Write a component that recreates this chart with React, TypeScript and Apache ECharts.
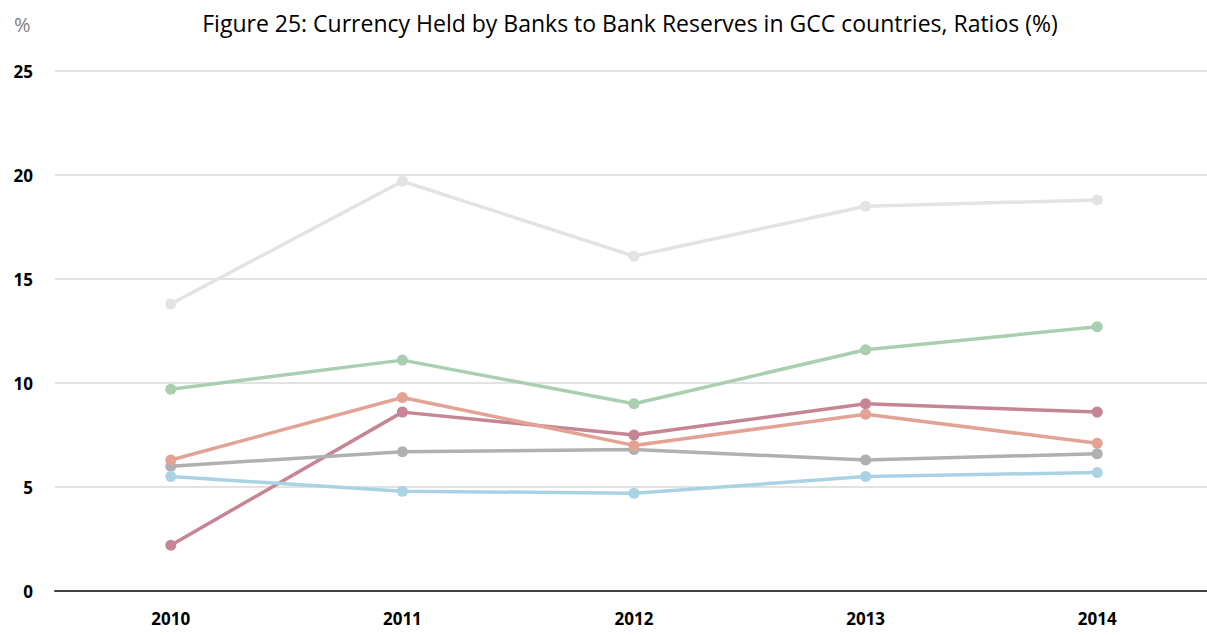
import React, { useEffect, useRef } from "react";
import * as echarts from "echarts";

const years = ["2010", "2011", "2012", "2013", "2014"];
const yTicks = [0, 5, 10, 15, 20, 25];

const seriesNames = ["Series A", "Series B", "Series C", "Series D", "Series E", "Series F"];
const lightGrayValues = [13.8, 19.7, 16.1, 18.5, 18.8];
const greenValues = [9.7, 11.1, 9.0, 11.6, 12.7];
const mauveValues = [2.2, 8.6, 7.5, 9.0, 8.6];
const grayValues = [6.0, 6.7, 6.8, 6.3, 6.6];
const blueValues = [5.5, 4.8, 4.7, 5.5, 5.7];
const salmonValues = [6.3, 9.3, 7.0, 8.5, 7.1];

const seriesValues = [lightGrayValues, greenValues, mauveValues, grayValues, blueValues, salmonValues];
const seriesColors = ["#e3e3e3", "#a9cfb0", "#c58594", "#b0b0b0", "#a9d3e5", "#e3a394"];

export default function App() {
  const ref = useRef<HTMLDivElement>(null);
  useEffect(() => {
    if (!ref.current) return;
    const chart = echarts.init(ref.current, undefined, { renderer: "svg" });
    const font = "'Open Sans', 'Noto Sans', sans-serif";
    chart.setOption({
      animation: false,
      backgroundColor: "#ffffff",
      textStyle: { fontFamily: font },
      title: [
        {
          text: "Figure 25: Currency Held by Banks to Bank Reserves in GCC countries, Ratios (%)",
          left: 625,
          textAlign: "center",
          top: 6,
          textStyle: { fontSize: 23, fontWeight: "normal", color: "#000000", fontFamily: font },
        },
        {
          text: "%",
          left: 9,
          top: 9,
          textStyle: { fontSize: 20, fontWeight: "normal", color: "#7f7f7f", fontFamily: font },
        },
      ],
      grid: { left: 55, right: 0, top: 71, bottom: 44, containLabel: false },
      xAxis: {
        type: "category",
        data: years,
        boundaryGap: true,
        axisLine: { show: true, lineStyle: { color: "#404040", width: 2 } },
        axisTick: { show: false },
        axisLabel: { fontSize: 17, fontWeight: "bold", color: "#000000", margin: 19, fontFamily: font },
      },
      yAxis: {
        type: "value",
        min: yTicks[0],
        max: yTicks[yTicks.length - 1],
        interval: 5,
        axisLine: { show: false },
        axisTick: { show: false },
        axisLabel: { fontSize: 17, fontWeight: "bold", color: "#000000", margin: 22, fontFamily: font },
        splitLine: { show: true, lineStyle: { color: "#d9d9d9", width: 1.5 } },
      },
      series: seriesValues.map((vals, i) => ({
        name: seriesNames[i],
        type: "line",
        data: vals,
        symbol: "circle",
        symbolSize: 11,
        lineStyle: { width: 3.5, color: seriesColors[i] },
        itemStyle: { color: seriesColors[i] },
        z: 2 + i,
      })),
    });
    return () => chart.dispose();
  }, []);
  return <div ref={ref} style={{ position: "fixed", left: 0, top: 0, width: 1213, height: 635 }} />;
}
